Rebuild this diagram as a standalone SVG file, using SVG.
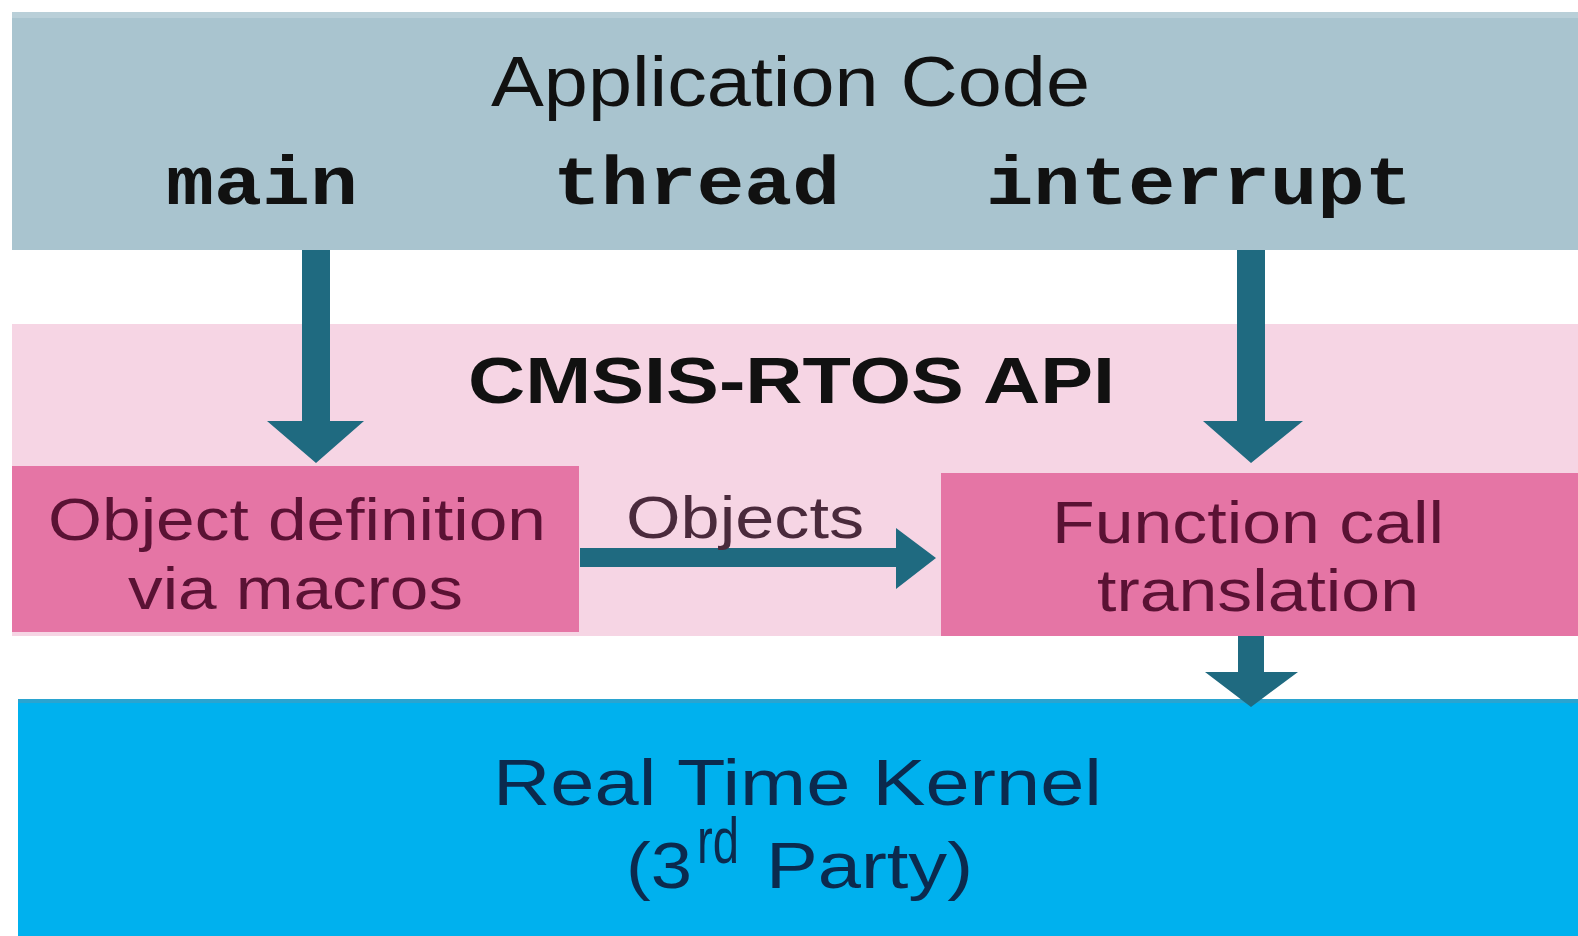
<svg xmlns="http://www.w3.org/2000/svg" width="1578" height="936" viewBox="0 0 1578 936">
<style>
.sans{font-family:"Liberation Sans",Arial,sans-serif}
.mono{font-family:"Liberation Mono","Courier New",monospace;font-weight:bold;font-size:68px;fill:#111}
.arrow{fill:#1f6a80}
.maroon{fill:#5a1234}
.kern{fill:#0b2a4e;font-size:64px}
</style>
<rect x="0" y="0" width="1578" height="936" fill="#ffffff"/>
<g id="application">
<rect x="12" y="12" width="1566" height="238" fill="#a9c4cf"/>
<rect x="12" y="12" width="1566" height="6" fill="#b9cfd8"/>
<text class="sans" x="491" y="106" font-size="70" fill="#111" textLength="599" lengthAdjust="spacingAndGlyphs">Application Code</text>
<text class="mono" x="166" y="204" textLength="192" lengthAdjust="spacingAndGlyphs">main</text>
<text class="mono" x="553" y="204" textLength="287" lengthAdjust="spacingAndGlyphs">thread</text>
<text class="mono" x="986" y="204" textLength="426" lengthAdjust="spacingAndGlyphs">interrupt</text>
</g>
<g id="cmsis">
<rect x="12" y="324" width="1566" height="312" fill="#f6d5e4"/>
<text class="sans" x="468" y="403" font-size="64" font-weight="bold" fill="#111" textLength="647" lengthAdjust="spacingAndGlyphs">CMSIS-RTOS API</text>
</g>
<g id="objdef">
<rect x="12" y="466" width="567" height="166" fill="#e575a5"/>
<text class="sans maroon" x="48" y="540" font-size="60" textLength="498" lengthAdjust="spacingAndGlyphs">Object definition</text>
<text class="sans maroon" x="128" y="609" font-size="60" textLength="335" lengthAdjust="spacingAndGlyphs">via macros</text>
</g>
<g id="funccall">
<rect x="941" y="473" width="637" height="163" fill="#e575a5"/>
<text class="sans maroon" x="1052" y="543" font-size="60" textLength="392" lengthAdjust="spacingAndGlyphs">Function call</text>
<text class="sans maroon" x="1097" y="611" font-size="60" textLength="322" lengthAdjust="spacingAndGlyphs">translation</text>
</g>
<g id="kernel">
<rect x="18" y="699" width="1560" height="237" fill="#00b1ee"/>
<rect x="18" y="699" width="1560" height="4" fill="#2aa4d0"/>
<text class="sans kern" x="493" y="805" textLength="609" lengthAdjust="spacingAndGlyphs">Real Time Kernel</text>
<text class="sans kern" x="626" y="888" textLength="66" lengthAdjust="spacingAndGlyphs">(3</text>
<text class="sans kern" x="697" y="863" font-size="34" textLength="42" lengthAdjust="spacingAndGlyphs">rd</text>
<text class="sans kern" x="766" y="888" textLength="207" lengthAdjust="spacingAndGlyphs">Party)</text>
</g>
<g id="connectors">
<polygon class="arrow" points="302,250 330,250 330,421 364,421 316,463 267,421 302,421"/>
<polygon class="arrow" points="1237,250 1265,250 1265,421 1303,421 1251,463 1203,421 1237,421"/>
<polygon class="arrow" points="580,548 896,548 896,528 936,558 896,589 896,567 580,567"/>
<polygon class="arrow" points="1238,636 1264,636 1264,672 1298,672 1251,707 1205,672 1238,672"/>
<text class="sans" x="626" y="538" font-size="60" fill="#4a2a3c" textLength="238" lengthAdjust="spacingAndGlyphs">Objects</text>
</g>
</svg>
